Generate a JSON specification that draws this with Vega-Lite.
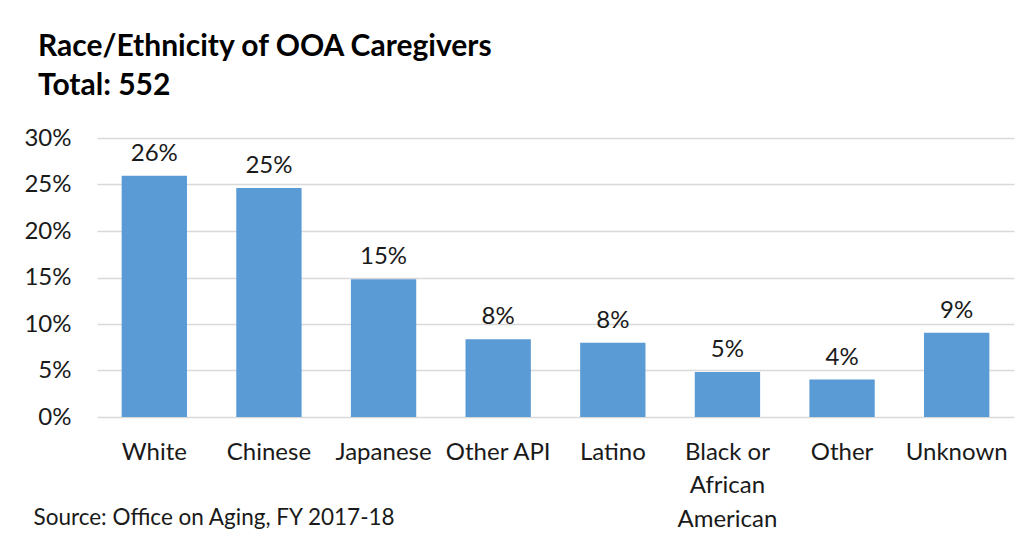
{
  "$schema": "https://vega.github.io/schema/vega-lite/v6.json",
  "autosize": {"type": "none"},
  "width": 917,
  "height": 279,
  "padding": {"left": 97, "top": 138, "right": 12, "bottom": 127},
  "background": "white",
  "title": {
    "text": ["Race/Ethnicity of OOA Caregivers", "Total: 552"],
    "anchor": "start",
    "frame": "group",
    "dx": -59,
    "offset": 25,
    "font": "Lato",
    "fontSize": 30,
    "fontWeight": "bold",
    "lineHeight": 39,
    "color": "#000000"
  },
  "data": {
    "values": [
      {"group": "White", "pct": 0.2595},
      {"group": "Chinese", "pct": 0.2463},
      {"group": "Japanese", "pct": 0.148},
      {"group": "Other API", "pct": 0.0835},
      {"group": "Latino", "pct": 0.0799},
      {"group": "Black or African American", "pct": 0.0483},
      {"group": "Other", "pct": 0.0402},
      {"group": "Unknown", "pct": 0.0906}
    ]
  },
  "encoding": {
    "x": {
      "field": "group",
      "type": "nominal",
      "sort": null,
      "scale": {"paddingInner": 0.43, "paddingOuter": 0.215},
      "axis": {
        "title": "Source: Office on Aging, FY 2017-18",
        "titleX": -64,
        "titleY": 100,
        "titleAlign": "left",
        "titleBaseline": "middle",
        "titleFont": "Lato",
        "titleFontSize": 22.5,
        "titleFontWeight": "normal",
        "titleColor": "#1a1a1a",
        "labelAngle": 0,
        "labelFont": "Lato",
        "labelFontSize": 24,
        "labelColor": "#1a1a1a",
        "labelPadding": 35,
        "labelBaseline": "middle",
        "labelLineHeight": 33.5,
        "labelLimit": 200,
        "labelExpr": "datum.value == 'Black or African American' ? ['Black or', 'African', 'American'] : datum.value",
        "ticks": false,
        "domain": false
      }
    },
    "y": {
      "field": "pct",
      "type": "quantitative",
      "scale": {"domain": [0, 0.3]},
      "axis": {
        "title": null,
        "format": ".0%",
        "values": [0, 0.05, 0.1, 0.15, 0.2, 0.25, 0.3],
        "labelFont": "Lato",
        "labelFontSize": 24,
        "labelColor": "#1a1a1a",
        "labelPadding": 26,
        "ticks": false,
        "domain": false,
        "gridColor": "#d9d9d9",
        "gridWidth": 1.3
      }
    }
  },
  "layer": [
    {"mark": {"type": "bar", "color": "#5b9bd5"}},
    {
      "mark": {"type": "text", "baseline": "bottom", "dy": -10, "font": "Lato", "fontSize": 24, "color": "#1a1a1a"},
      "encoding": {"text": {"field": "pct", "type": "quantitative", "format": ".0%"}}
    }
  ],
  "config": {"view": {"stroke": null}}
}
